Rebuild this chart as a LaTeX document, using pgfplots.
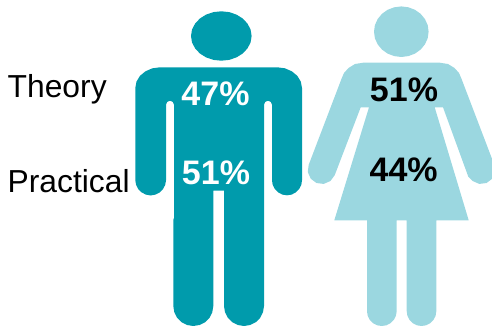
\documentclass[border=0pt]{standalone}
\usepackage{pgfplots}
\pgfplotsset{compat=1.18}
\usepackage{fontspec}
\setmainfont{Liberation Sans}
\definecolor{mancol}{HTML}{009BAC}
\definecolor{womancol}{HTML}{9BD7E0}
\newcommand{\lab}{\fontsize{31.8}{32}\selectfont}
\newcommand{\pct}{\fontsize{34}{34}\selectfont\bfseries}
\begin{document}
\begin{tikzpicture}
\begin{axis}[
  scale only axis, width=492pt, height=326pt,
  xmin=0, xmax=492, ymin=0, ymax=326, y dir=reverse,
  hide axis, axis on top=false,
]
% keeps the full canvas in the bounding box
\path (axis cs:0,0) rectangle (axis cs:492,326);
% man: head
\addplot[fill=mancol, draw=none] coordinates {
(251.6,36)(250.6,42.4)(247.5,48.4)(242.7,53.5)(236.5,57.4)(229.1,59.9)(221.3,60.7)(213.5,59.9)(206.1,57.4)(199.9,53.5)(195.1,48.4)(192,42.4)(191,36)(192,29.6)(195.1,23.6)(199.9,18.5)(206.1,14.6)(213.5,12.1)(221.3,11.3)(229.1,12.1)(236.5,14.6)(242.7,18.5)(247.5,23.6)(250.6,29.6)
} -- cycle;
% man: body outline, clockwise from the left shoulder
\addplot[fill=mancol, draw=none] coordinates {
(135.3,88)(136.5,81.6)(140,75.8)(145.5,71.3)(152.4,68.3)(160,67.3)
(277.3,67.3)(284.9,68.3)(291.8,71.3)(297.3,75.8)(300.8,81.6)(302,88)
(302,180.3)(301.3,184.9)(299.1,189.1)(295.8,192.4)(291.6,194.6)(287,195.3)(282.4,194.6)(278.2,192.4)(274.9,189.1)(272.7,184.9)(272,180.3)
(272,104.7)(270.8,101.9)(268,100.7)(265.2,101.9)(264,104.7)
(264,306)(263,312.2)(260.2,317.8)(255.8,322.2)(250.2,325)(244,326)(237.8,325)(232.2,322.2)(227.8,317.8)(225,312.2)(224,306)
(224,190.7)(213.3,190.7)
(213.3,306)(212.3,312.2)(209.5,317.8)(205.1,322.2)(199.5,325)(193.3,326)(187.1,325)(181.5,322.2)(177.1,317.8)(174.3,312.2)(173.3,306)
(173.3,220)(174,218)(174,104.7)(172.8,101.9)(170,100.7)(167.2,101.9)(166,104.7)
(166,180.3)(165.2,184.9)(163,189.1)(159.7,192.4)(155.4,194.6)(150.65,195.5)(145.9,194.6)(141.6,192.4)(138.3,189.1)(136.1,184.9)(135.3,180.3)
} -- cycle;
% woman: head
\addplot[fill=womancol, draw=none] coordinates {
(428.6,31.7)(427.7,38.3)(424.9,44.4)(420.6,49.6)(415,53.6)(408.4,56.1)(401.3,57)(394.2,56.1)(387.6,53.6)(382,49.6)(377.7,44.4)(374.9,38.3)(374,31.7)(374.9,25.1)(377.7,19)(382,13.8)(387.6,9.8)(394.2,7.3)(401.3,6.4)(408.4,7.3)(415,9.8)(420.6,13.8)(424.9,19)(427.7,25.1)
} -- cycle;
% woman: dress, arms and legs
\addplot[fill=womancol, draw=none] coordinates {
(363.3,62.7)(355,64)(348.5,68)(344,73)(341.7,78.3)
(308.7,164.8)(307.8,172)(310.7,178.7)(316.5,183)(323.7,183.9)(330.4,181)(334.7,175.2)
(360.7,107.3)(369,107.3)(334.3,220.3)(367,220.3)
(367,311.2)(367.7,315.8)(369.8,319.9)(373.1,323.2)(377.2,325.3)(381.8,326)(386.4,325.3)(390.5,323.2)(393.8,319.9)(395.9,315.8)(396.7,311.2)
(396.7,220.3)(406.7,220.3)
(406.7,311.2)(407.4,315.8)(409.5,319.9)(412.8,323.2)(416.9,325.3)(421.5,326)(426.1,325.3)(430.2,323.2)(433.5,319.9)(435.6,315.8)(436.3,311.2)
(436.3,220.3)(468.7,220.3)(434.7,107.3)(443,107.3)
(468.3,176.7)(472.6,181)(479.3,183.9)(486.5,183)(492.3,178.7)(495.2,172)(494.3,164.8)
(461.3,78.3)(459,73)(454.5,68)(448,64)(439.7,62.7)
} -- cycle;
% row labels
\node[anchor=base west, inner sep=0pt] at (axis cs:7.5,98) {\lab Theory};
\node[anchor=base west, inner sep=0pt] at (axis cs:7.5,192) {\lab Practical};
% shares per figure
\node[anchor=base, inner sep=0pt, text=white] at (axis cs:215.5,106) {\pct 47\%};
\node[anchor=base, inner sep=0pt, text=white] at (axis cs:216,184) {\pct 51\%};
\node[anchor=base, inner sep=0pt, text=black] at (axis cs:404,102) {\pct 51\%};
\node[anchor=base, inner sep=0pt, text=black] at (axis cs:403.7,181) {\pct 44\%};
\end{axis}
\end{tikzpicture}
\end{document}
